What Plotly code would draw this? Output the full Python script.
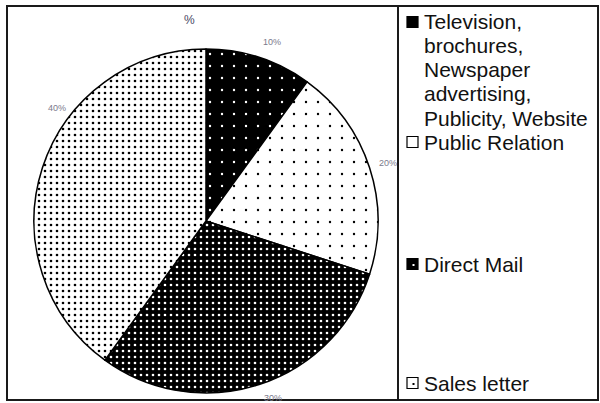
import plotly.graph_objects as go

# ---- data ----
categories = [
    "Television, brochures, Newspaper advertising, Publicity, Website",
    "Public Relation",
    "Direct Mail",
    "Sales letter",
]
values = [10, 20, 30, 40]
value_labels = ["10%", "20%", "30%", "40%"]
legend_lines = [
    ["Television,", "brochures,", "Newspaper", "advertising,", "Publicity, Website"],
    ["Public Relation"],
    ["Direct Mail"],
    ["Sales letter"],
]
title_text = "%"

# ---- styles ----
bg_colors = ["#000000", "#ffffff", "#000000", "#ffffff"]
fg_colors = ["#ffffff", "#000000", "#ffffff", "#000000"]
pat_sizes = [12, 12, 6, 6]
pat_solid = [0.03, 0.03, 0.15, 0.15]

W, H = 600, 403


def px(x):
    return x / W


def py(y):
    return 1 - y / H


cx, cy, r = 206, 221, 172

fig = go.Figure()
fig.add_trace(go.Pie(
    labels=categories,
    values=values,
    sort=False,
    direction="clockwise",
    rotation=0,
    textinfo="none",
    hoverinfo="label+percent",
    showlegend=False,
    marker=dict(
        colors=bg_colors,
        line=dict(color="#000000", width=1.5),
        pattern=dict(
            shape=["."] * 4,
            bgcolor=bg_colors,
            fgcolor=fg_colors,
            size=pat_sizes,
            solidity=pat_solid,
            fillmode="replace",
        ),
    ),
    domain=dict(x=[px(cx - r), px(cx + r)], y=[py(cy + r), py(cy - r)]),
))

shapes = []
# outer frame
shapes.append(dict(type="rect", xref="paper", yref="paper",
                   x0=px(7), x1=px(598), y0=py(400), y1=py(6),
                   line=dict(color="#1a1a1a", width=2), fillcolor="rgba(0,0,0,0)"))
# legend separator
shapes.append(dict(type="line", xref="paper", yref="paper",
                   x0=px(398), x1=px(398), y0=py(400), y1=py(6),
                   line=dict(color="#1a1a1a", width=2)))

annotations = []
# title
annotations.append(dict(text=title_text, x=px(189), y=py(20), xref="paper", yref="paper",
                        showarrow=False, xanchor="center", yanchor="middle",
                        font=dict(family="Liberation Sans, Arial", size=12, color="#4a4a66")))
# value labels
label_pos = [(272, 42), (388, 163), (273, 398), (57, 108)]
for t, (lx, ly) in zip(value_labels, label_pos):
    annotations.append(dict(text=t, x=px(lx), y=py(ly), xref="paper", yref="paper",
                            showarrow=False, xanchor="center", yanchor="middle",
                            font=dict(family="Liberation Sans, Arial", size=9, color="#7a7a8c")))

# legend
item_y = [22, 142, 264, 383]
line_gap = 24
box_x0, box_x1 = 407, 418
for i, lines in enumerate(legend_lines):
    y0 = item_y[i]
    # swatch
    shapes.append(dict(type="rect", xref="paper", yref="paper",
                       x0=px(box_x0), x1=px(box_x1), y0=py(y0 + 5.5), y1=py(y0 - 5.5),
                       line=dict(color="#000000", width=1.2), fillcolor=bg_colors[i]))
    if pat_sizes[i] < 10:
        dcx, dcy = (box_x0 + box_x1) / 2 + 1, y0 + 1
        shapes.append(dict(type="rect", xref="paper", yref="paper",
                           x0=px(dcx - 1), x1=px(dcx + 1), y0=py(dcy + 1), y1=py(dcy - 1),
                           line=dict(width=0), fillcolor=fg_colors[i]))
    for k, ln in enumerate(lines):
        annotations.append(dict(text=ln, x=px(422), y=py(y0 + k * line_gap),
                                xref="paper", yref="paper", showarrow=False,
                                xanchor="left", yanchor="middle",
                                font=dict(family="Liberation Sans, Arial", size=21, color="#111111")))

fig.update_layout(
    width=W, height=H,
    margin=dict(l=0, r=0, t=0, b=0),
    paper_bgcolor="#ffffff",
    plot_bgcolor="#ffffff",
    shapes=shapes,
    annotations=annotations,
)

fig.write_html("out.html")
